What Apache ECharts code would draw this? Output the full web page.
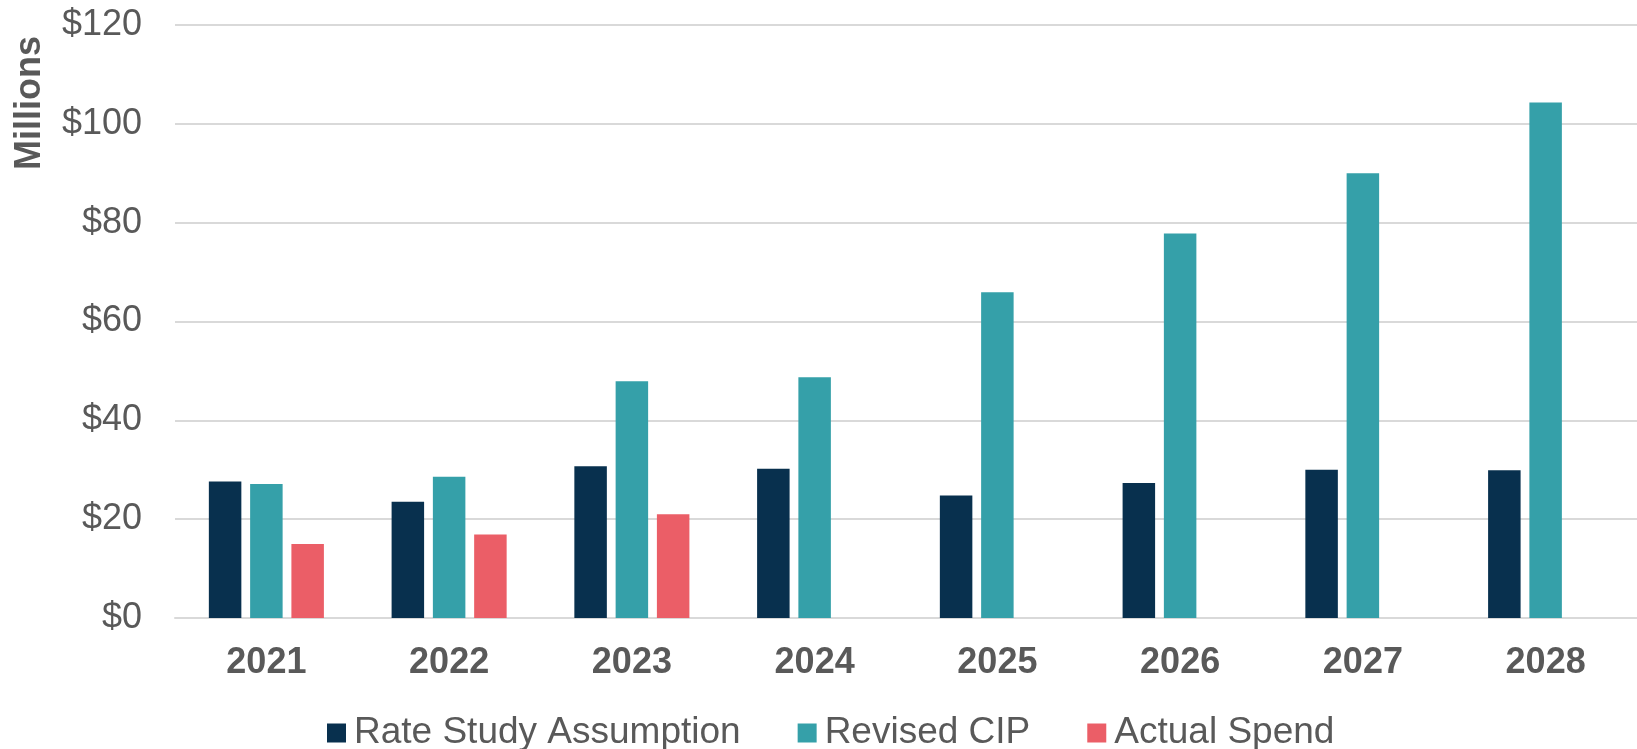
<!DOCTYPE html>
<html>
<head>
<meta charset="utf-8">
<title>Capital spending by year</title>
<script src="https://cdn.jsdelivr.net/npm/echarts@6/dist/echarts.min.js"></script>
<style>
  html, body { margin: 0; padding: 0; background: #ffffff; }
  #chart { width: 1637px; height: 749px; }
</style>
</head>
<body>
<div id="chart"></div>
<script>
// Years on the category axis
const years = ['2021', '2022', '2023', '2024', '2025', '2026', '2027', '2028'];

// Spending in millions of dollars
const rateStudyAssumption = [27.6, 23.5, 30.7, 30.2, 24.8, 27.3, 30.0, 29.9];
const revisedCIP = [27.1, 28.6, 47.9, 48.7, 65.9, 77.8, 90.0, 104.3];
const actualSpend = [15.0, 16.9, 21.0, null, null, null, null, null];

// Value axis ticks
const yTicks = [0, 20, 40, 60, 80, 100, 120];

const seriesNames = ['Rate Study Assumption', 'Revised CIP', 'Actual Spend'];
const seriesColors = ['#08304E', '#35A0A9', '#EB5E67'];

const chart = echarts.init(document.getElementById('chart'), null, { renderer: 'canvas' });

const textColor = '#595959';
const gridColor = '#D9D9D9';

const makeBar = (name, data, color) => ({
  name: name,
  type: 'bar',
  data: data,
  barWidth: 32.5,
  barGap: '27%',
  itemStyle: { color: color },
  emphasis: { disabled: true }
});

chart.setOption({
  animation: false,
  backgroundColor: '#ffffff',
  grid: { left: 175, top: 25, width: 1476, height: 593, containLabel: false },
  xAxis: {
    type: 'category',
    data: years,
    axisTick: { show: false },
    axisLine: { show: true, lineStyle: { color: gridColor, width: 2 } },
    axisLabel: {
      color: textColor,
      fontFamily: 'Liberation Sans, Arial, sans-serif',
      fontWeight: 'bold',
      fontSize: 36,
      lineHeight: 36,
      margin: 27
    }
  },
  yAxis: {
    type: 'value',
    min: yTicks[0],
    max: yTicks[yTicks.length - 1],
    interval: yTicks[1] - yTicks[0],
    axisLine: { show: false },
    axisTick: { show: false },
    splitLine: { show: true, lineStyle: { color: gridColor, width: 2 } },
    axisLabel: {
      color: textColor,
      fontFamily: 'Liberation Sans, Arial, sans-serif',
      fontSize: 36,
      margin: 33,
      formatter: v => '$' + v
    }
  },
  legend: {
    data: seriesNames,
    left: 322,
    top: 708,
    itemWidth: 19,
    itemHeight: 19,
    itemGap: 57,
    icon: 'rect',
    selectedMode: false,
    textStyle: {
      color: textColor,
      fontFamily: 'Liberation Sans, Arial, sans-serif',
      fontSize: 37,
      lineHeight: 40,
      padding: [0, 0, 0, 3]
    }
  },
  graphic: [{
    type: 'text',
    x: 30,
    y: 103,
    rotation: Math.PI / 2,
    style: {
      text: 'Millions',
      fill: textColor,
      font: 'bold 36px "Liberation Sans", Arial, sans-serif',
      align: 'center',
      verticalAlign: 'middle'
    }
  }],
  series: [
    makeBar(seriesNames[0], rateStudyAssumption, seriesColors[0]),
    makeBar(seriesNames[1], revisedCIP, seriesColors[1]),
    makeBar(seriesNames[2], actualSpend, seriesColors[2])
  ]
});
</script>
</body>
</html>
